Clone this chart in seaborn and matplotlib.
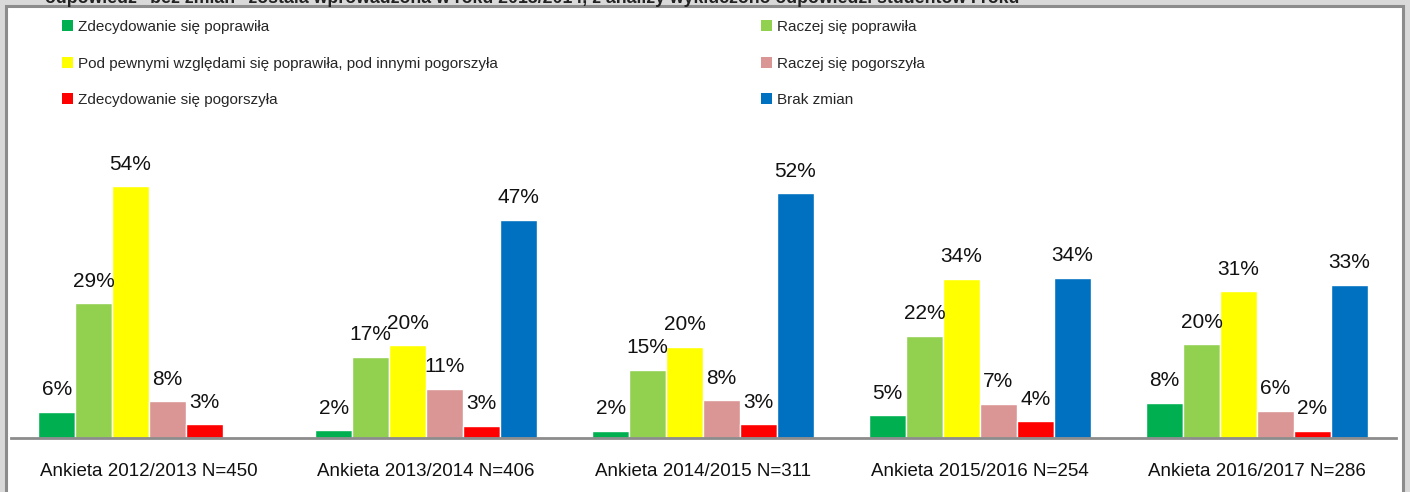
import numpy as np
import pandas as pd
import matplotlib
matplotlib.use("Agg")
import matplotlib.pyplot as plt
import matplotlib.patches as mpatches
import seaborn as sns

# data (percent)
surveys = ["Ankieta 2012/2013 N=450", "Ankieta 2013/2014 N=406", "Ankieta 2014/2015 N=311",
           "Ankieta 2015/2016 N=254", "Ankieta 2016/2017 N=286"]
answers = ["Zdecydowanie się poprawiła", "Raczej się poprawiła",
           "Pod pewnymi względami się poprawiła, pod innymi pogorszyła",
           "Raczej się pogorszyła", "Zdecydowanie się pogorszyła", "Brak zmian"]
zdec_popr = [5.6, 1.7, 1.6, 4.9, 7.6]
racz_popr = [28.9, 17.4, 14.6, 21.9, 20.1]
pod_pewn = [54.0, 19.9, 19.6, 34.1, 31.4]
racz_pog = [7.9, 10.6, 8.1, 7.3, 5.8]
zdec_pog = [3.0, 2.6, 3.0, 3.6, 1.6]
brak_zmian = [np.nan, 46.8, 52.4, 34.3, 32.8]
colors = ["#00B050", "#92D050", "#FFFF00", "#DA9694", "#FF0000", "#0070C0"]

title = 'odpowiedź "bez zmian" została wprowadzona w roku 2013/2014, z analizy wykluczono odpowiedzi studentów I roku'

series = [zdec_popr, racz_popr, pod_pewn, racz_pog, zdec_pog, brak_zmian]
rows = []
for a, vals in zip(answers, series):
    for s, v in zip(surveys, vals):
        rows.append({"survey": s, "answer": a, "value": v})
df = pd.DataFrame(rows)

sns.set_style("white")
plt.rcParams['font.family'] = ['Liberation Sans', 'DejaVu Sans']

W, H = 1410, 492
fig = plt.figure(figsize=(W / 100, H / 100), dpi=100)
fig.patch.set_facecolor("#D9D9D9")

# white chart box with gray border
box = mpatches.Rectangle((6 / W, -0.05), (1397 / W), 1 - 6 / H + 0.05, transform=fig.transFigure,
                         facecolor="white", edgecolor="#8C8C8C", linewidth=2.2, zorder=-5)
fig.patches.append(box)

# title line, cut off by the top edge as in the source
fig.text(45 / W, 1 - 3 / H, title, fontsize=12.8, fontweight="bold", color="#222222",
         va="baseline", ha="left", zorder=-1)

ax = fig.add_axes([10.5 / W, 54 / H, 1385 / W, 280 / H])
ax.set_facecolor("none")
sns.barplot(data=df, x="survey", y="value", hue="answer", hue_order=answers,
            order=surveys, palette=colors, errorbar=None, width=0.8, saturation=1,
            ax=ax, legend=False)

for cont in ax.containers:
    ax.bar_label(cont, fmt=lambda v: f"{v:.0f}%", padding=9, fontsize=15, color="#111111")

ax.set_xlim(-0.5, 4.5)
ax.set_ylim(0, 60)
ax.set_xlabel("")
ax.set_ylabel("")
ax.set_yticks([])
ax.tick_params(axis="x", length=0, pad=18, labelsize=13.5, labelcolor="#111111")
for sp in ["top", "left", "right"]:
    ax.spines[sp].set_visible(False)
ax.spines["bottom"].set_color("#8C8C8C")
ax.spines["bottom"].set_linewidth(2)

# legend in two columns, row-major order
handles = [mpatches.Patch(facecolor=c, edgecolor="none") for c in colors]
left_idx = [0, 2, 4]
right_idx = [1, 3, 5]
leg_kw = dict(frameon=False, fontsize=11, handlelength=0.75, handleheight=0.75,
              handletextpad=0.3, labelspacing=1.48, borderaxespad=0, borderpad=0)
leg1 = fig.legend([handles[i] for i in left_idx], [answers[i] for i in left_idx],
                  loc="upper left", bbox_to_anchor=(62 / W, 1 - 20 / H), **leg_kw)
leg2 = fig.legend([handles[i] for i in right_idx], [answers[i] for i in right_idx],
                  loc="upper left", bbox_to_anchor=(761 / W, 1 - 20 / H), **leg_kw)

fig.savefig("out.png", dpi=100, facecolor=fig.get_facecolor())
